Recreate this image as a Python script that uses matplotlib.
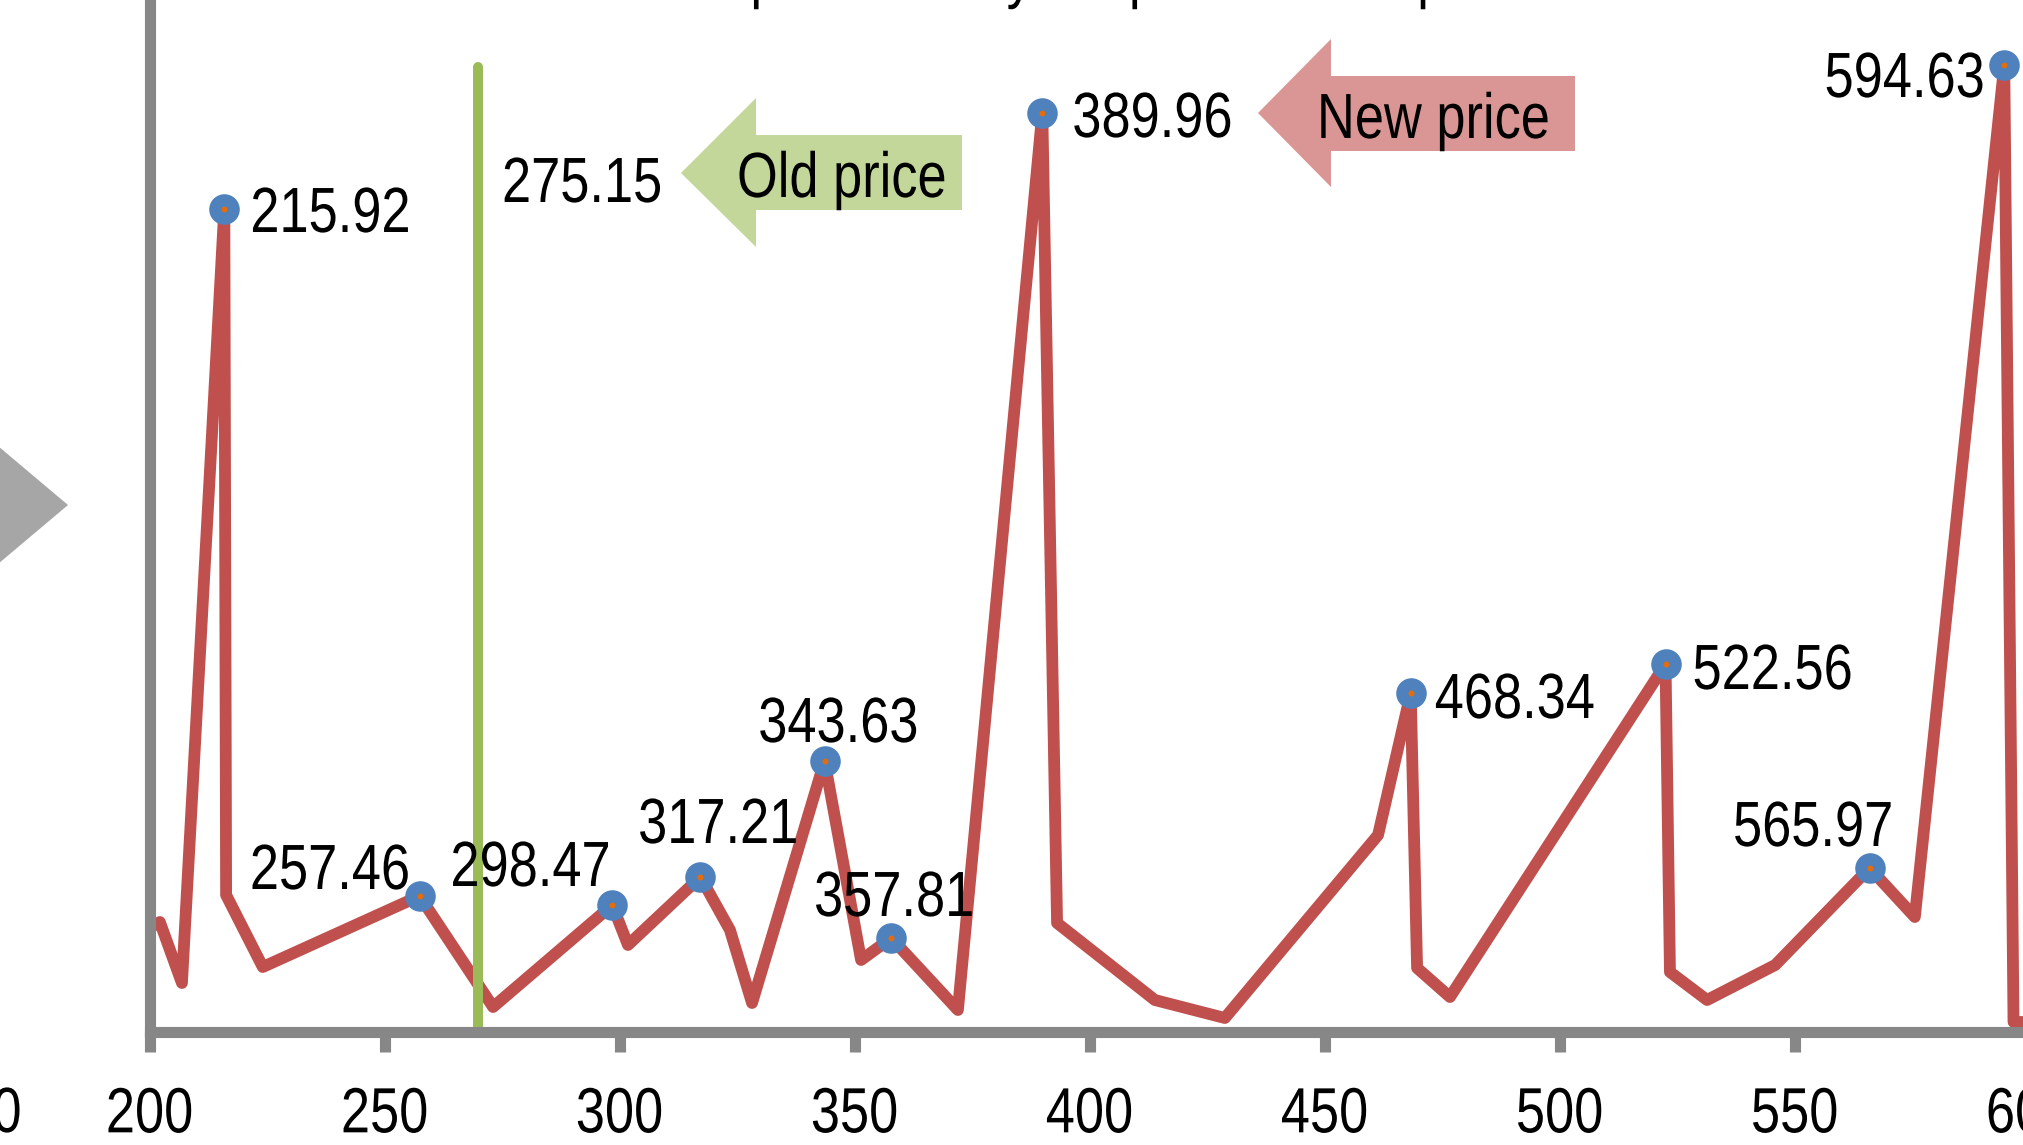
import matplotlib
matplotlib.use("Agg")
import matplotlib.pyplot as plt
from matplotlib import font_manager as fm
from matplotlib.patches import Polygon
from matplotlib.patheffects import AbstractPathEffect
from matplotlib.transforms import Affine2D

# ---------------------------------------------------------------- data
# price curve (x = price level, y = relative frequency)
price_x = [200.0, 202.2, 206.9, 215.92, 216.3, 224.1, 257.46, 273.1, 298.47,
           301.8, 317.21, 323.5, 328.2, 343.63, 351.4, 357.81, 372.0, 389.96,
           393.1, 413.9, 428.8, 461.4, 468.34, 469.7, 476.7, 522.56, 523.5,
           531.4, 545.9, 565.97, 575.6, 594.63, 596.6, 602.0]
price_y = [10.4, 11.0, 4.9, 82.3, 13.7, 6.5, 13.6, 2.5, 12.7,
           8.7, 15.5, 10.2, 2.9, 27.1, 7.2, 9.4, 2.2, 91.9,
           10.9, 3.2, 1.4, 19.7, 33.9, 6.4, 3.5, 36.8, 6.0,
           3.2, 6.7, 16.4, 11.5, 96.7, 1.0, 1.0]

# highlighted local peaks
peak_x = [215.92, 257.46, 298.47, 317.21, 343.63, 357.81, 389.96,
          468.34, 522.56, 565.97, 594.63]
peak_y = [82.3, 13.6, 12.7, 15.5, 27.1, 9.4, 91.9, 33.9, 36.8, 16.4, 96.7]

x_ticks = [200, 250, 300, 350, 400, 450, 500, 550, 600]

old_price_label = "275.15"
old_price_line_x = 269.8
old_price_line_top = 96.5

title = "Retail prices today vs. past normal price"

# ---------------------------------------------------------------- style
W, H, DPI = 2023, 1145, 100
FS = 46
RED = "#C0504D"
BLUE = "#4F81BD"
ORANGE = "#E46C0A"
GREEN = "#9BBB59"
AXIS_GREY = "#878787"

available = {f.name for f in fm.fontManager.ttflist}
narrow = [n for n in ("Liberation Sans Narrow", "Arial Narrow") if n in available]
if narrow:
    plt.rcParams["font.family"] = [narrow[0], "DejaVu Sans"]
    SX = 1.0
else:
    # Arial Narrow is Arial compressed to 82 % width
    plt.rcParams["font.family"] = ["Liberation Sans", "DejaVu Sans"]
    SX = 0.82


class Squeeze(AbstractPathEffect):
    """Draw text glyphs compressed horizontally about an anchor."""

    def __init__(self, sx, anchor="left"):
        super().__init__()
        self.sx = sx
        self.anchor = anchor

    def draw_path(self, renderer, gc, tpath, affine, rgbFace=None):
        if self.anchor == "left":
            cx = 0.0
        else:
            ext = tpath.get_extents()
            cx = ext.x1 if self.anchor == "right" else (ext.x0 + ext.x1) / 2
        squeeze = Affine2D().translate(-cx, 0).scale(self.sx, 1).translate(cx, 0)
        renderer.draw_path(gc, tpath, squeeze + affine, rgbFace)


def narrow_text(t, anchor):
    if SX != 1.0:
        t.set_path_effects([Squeeze(SX, anchor)])
    return t


def fx(px):
    return px / W


def fy(py):
    return 1 - py / H


fig = plt.figure(figsize=(W / DPI, H / DPI), dpi=DPI, facecolor="white")
ax = fig.add_axes([fx(149.5), fy(1032), 1880 / W, 1032 / H])
ax.set_xlim(200, 600)
ax.set_ylim(0, 103.2)
ax.patch.set_alpha(0)

for side in ("top", "right"):
    ax.spines[side].set_visible(False)
for side in ("left", "bottom"):
    ax.spines[side].set_color(AXIS_GREY)
    ax.spines[side].set_linewidth(8)

ax.set_xticks(x_ticks)
ax.set_xticklabels([str(t) for t in x_ticks])
ax.tick_params(axis="x", length=14.4, width=8, color=AXIS_GREY,
               direction="out", pad=24, labelsize=FS, labelcolor="black")
ax.set_yticks([])
for lbl in ax.get_xticklabels():
    narrow_text(lbl, "center")

# price curve
ax.plot(price_x, price_y, color=RED, lw=8.5, solid_joinstyle="round",
        solid_capstyle="round", zorder=2)

# old price reference line
ax.plot([old_price_line_x, old_price_line_x], [0, old_price_line_top],
        color=GREEN, lw=7.2, solid_capstyle="round", zorder=2.2)

# peak markers
ax.plot(peak_x, peak_y, "o", ms=22, mfc=BLUE, mec=BLUE, mew=0, zorder=5)
ax.plot(peak_x, peak_y, "o", ms=4.3, mfc=ORANGE, mec=ORANGE, mew=0, zorder=6)

# peak labels: (ha, dx, dy) offsets in pixels
label_pos = [("left", 26, -23), ("right", -9, 7), ("right", -1, 19),
             ("center", 18, 34), ("center", 14, 19), ("center", 3, 22),
             ("left", 30, -24), ("left", 24, -25), ("left", 27, -25),
             ("right", 24, 22), ("right", -19, -32)]
for xv, yv, (ha, dx, dy) in zip(peak_x, peak_y, label_pos):
    t = ax.annotate(f"{xv:.2f}", (xv, yv), xytext=(dx, dy),
                    textcoords="offset pixels", ha=ha, va="baseline",
                    fontsize=FS, color="black", zorder=7)
    narrow_text(t, ha)

# block arrows
old_arrow = [(681, 173), (756, 98), (756, 135), (962, 135), (962, 210),
             (756, 210), (756, 247)]
new_arrow = [(1258, 113), (1331, 39), (1331, 76), (1575, 76), (1575, 151),
             (1331, 151), (1331, 187)]
for pts, col in ((old_arrow, "#C4D79B"), (new_arrow, "#DA9694")):
    fig.add_artist(Polygon([(fx(a), fy(b)) for a, b in pts], closed=True,
                           transform=fig.transFigure, facecolor=col,
                           edgecolor="none", zorder=1))

for txt, x0, base in ((old_price_label, 502, 202), ("Old price", 737, 197),
                      ("New price", 1317, 138)):
    narrow_text(fig.text(fx(x0), fy(base), txt, fontsize=FS, va="baseline",
                         ha="left", zorder=8), "left")

# connector triangle from the neighbouring panel
tri = [(-40, 414), (68, 505), (-40, 596)]
fig.add_artist(Polygon([(fx(a), fy(b)) for a, b in tri], closed=True,
                       transform=fig.transFigure, facecolor="#A6A6A6",
                       edgecolor="none"))
narrow_text(fig.text(fx(22), fy(1132), "0", fontsize=FS, ha="right",
                     va="baseline"), "right")

# title sitting just above the top edge
renderer = fig.canvas.get_renderer()


def text_width(s):
    t = fig.text(0, 0, s, fontsize=FS)
    w = t.get_window_extent(renderer).width
    t.remove()
    return w


first_p = title.index("p")
p_center = SX * (text_width(title[:first_p + 1]) - text_width("p") / 2)
narrow_text(fig.text(fx(765 - p_center), fy(-4), title, fontsize=FS,
                     ha="left", va="baseline"), "left")

fig.savefig("out.png", dpi=DPI, facecolor="white")
